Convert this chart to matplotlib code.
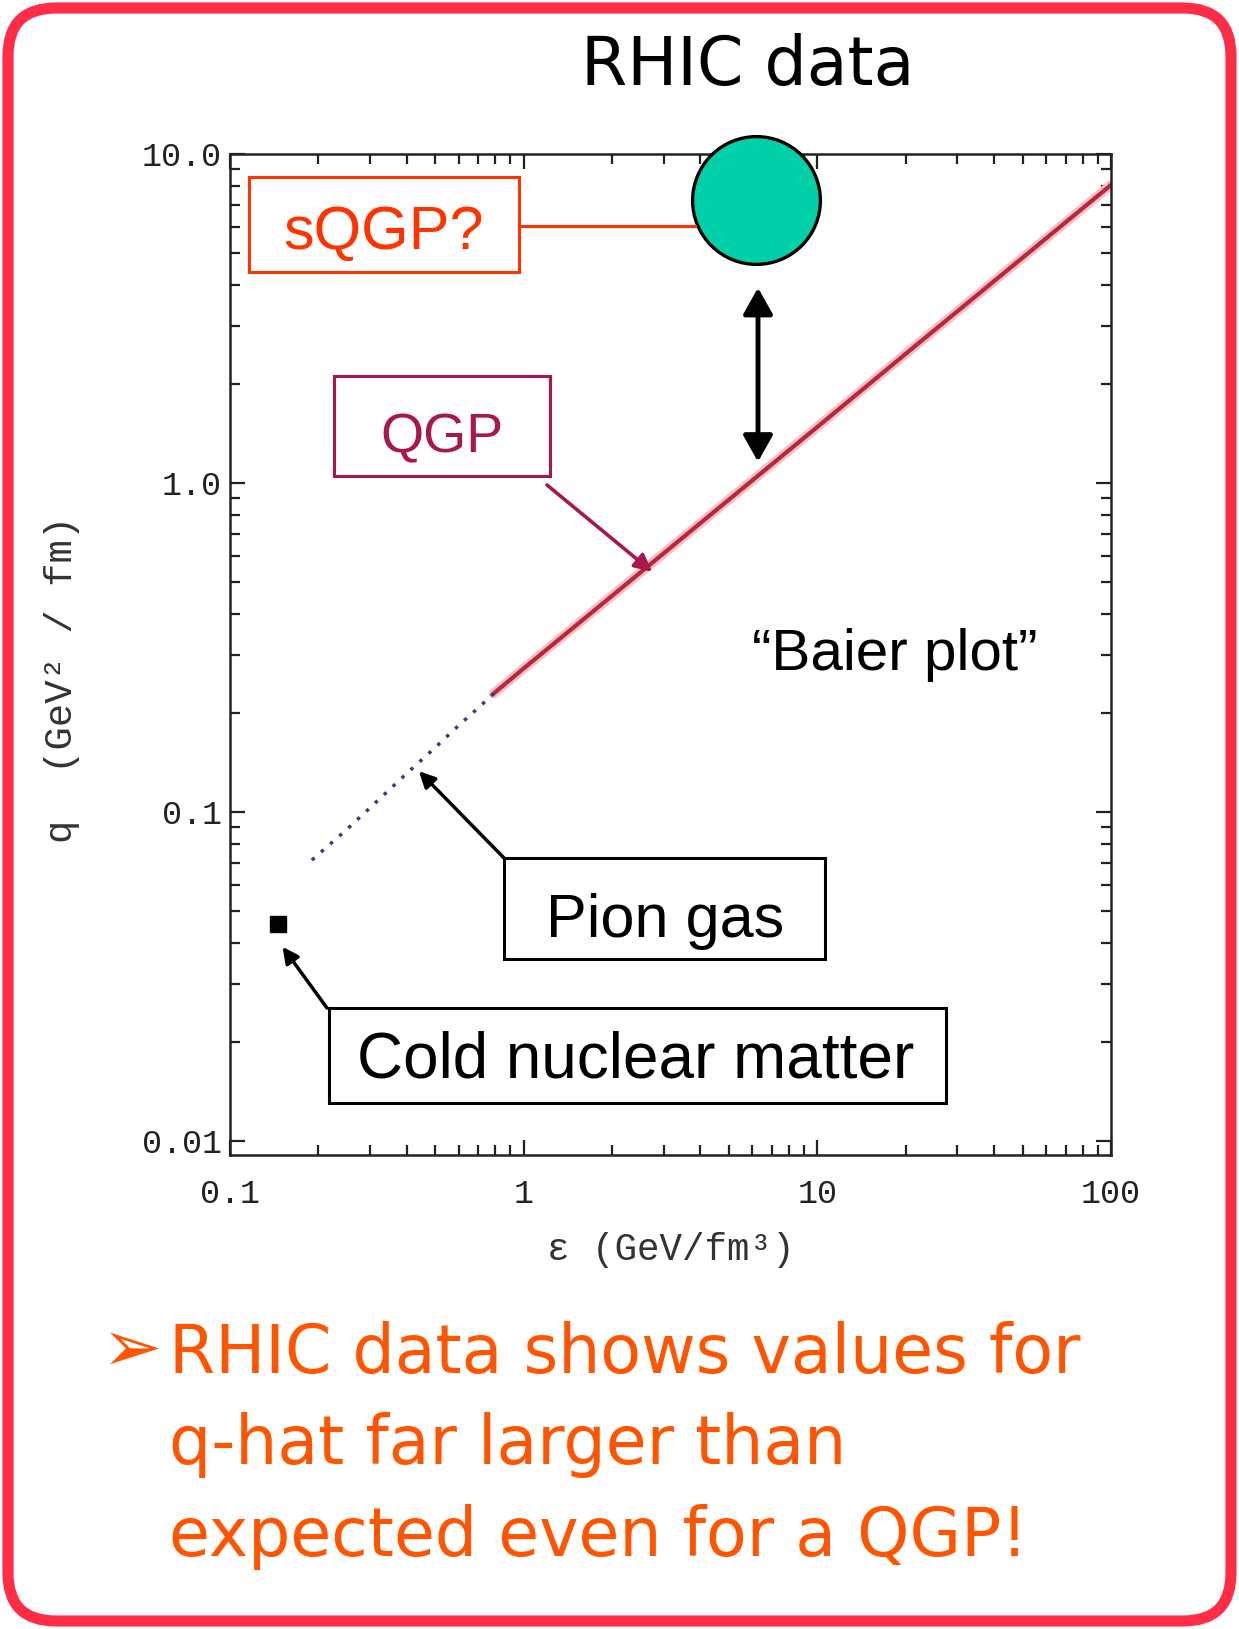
import matplotlib.pyplot as plt
from matplotlib.patches import FancyBboxPatch, Rectangle
from matplotlib.ticker import FixedLocator, FixedFormatter, LogLocator, NullFormatter

qgp_eps = [0.79, 1, 2, 5, 10, 20, 50, 100]
qgp_qhat = [0.229, 0.273, 0.454, 0.89, 1.48, 2.47, 4.84, 8.05]
pion_eps = [0.19, 0.25, 0.3, 0.4, 0.5, 0.6, 0.7, 0.79]
pion_qhat = [0.0714, 0.0885, 0.103, 0.131, 0.157, 0.183, 0.207, 0.229]
cold_eps = [0.146]
cold_qhat = [0.0457]
sqgp_eps = [6.18]
sqgp_qhat = [7.24]

xticks = [0.1, 1, 10, 100]
xtick_labels = ["0.1", "1", "10", "100"]
yticks = [0.01, 0.1, 1, 10]
ytick_labels = ["0.01", "0.1", "1.0", "10.0"]

W, H = 1239, 1629
fig = plt.figure(figsize=(W / 100, H / 100), dpi=100)

# main plot
ax = fig.add_axes([230 / W, 1 - 1155 / H, 881 / W, 1001 / H], zorder=1)
ax.set_xscale("log")
ax.set_yscale("log")
ax.set_xlim(0.1, 100)
ax.set_ylim(0.00906, 10)

ax.plot(qgp_eps, qgp_qhat, color="#F4C2C6", lw=7, solid_capstyle="round")
ax.plot(qgp_eps, qgp_qhat, color="#B8283A", lw=3)
ax.plot(pion_eps, pion_qhat, color="#3A3A80", lw=2.5, ls=(0, (1, 2.5)))
ax.plot(cold_eps, cold_qhat, "s", color="black", ms=12)
ax.plot(sqgp_eps, sqgp_qhat, "o", ms=92, mfc="#00D1A9", mec="black", mew=2.4,
        clip_on=False, zorder=4)

# distance between sQGP and QGP
ax.annotate("", xy=(6.28, 1.16), xytext=(6.28, 3.92),
            arrowprops=dict(arrowstyle="<|-|>,head_length=0.8,head_width=0.45",
                            lw=3.5, color="black", mutation_scale=20,
                            shrinkA=0, shrinkB=0))

mono = "Liberation Mono"
ax.xaxis.set_major_locator(FixedLocator(xticks))
ax.xaxis.set_major_formatter(FixedFormatter(xtick_labels))
ax.yaxis.set_major_locator(FixedLocator(yticks))
ax.yaxis.set_major_formatter(FixedFormatter(ytick_labels))
for axis in (ax.xaxis, ax.yaxis):
    axis.set_minor_locator(LogLocator(base=10, subs=range(2, 10), numticks=20))
    axis.set_minor_formatter(NullFormatter())
ax.tick_params(which="both", direction="in", top=True, right=True,
               width=1.6, color="#222222", labelcolor="#222222", labelsize=24)
ax.tick_params(which="major", length=11)
ax.tick_params(which="minor", length=7)
ax.tick_params(axis="x", pad=17)
ax.tick_params(axis="y", pad=6)
for lab in ax.get_xticklabels() + ax.get_yticklabels():
    lab.set_family(mono)
for sp in ax.spines.values():
    sp.set_linewidth(1.8)
    sp.set_color("#222222")

ax.set_xlabel("ε (GeV/fm³)", family=mono, fontsize=27, color="#333333", va="center")
ax.xaxis.set_label_coords(0.5, -0.095)
ax.set_ylabel("q  (GeV² / fm)", family=mono, fontsize=28, color="#333333", va="center")
ax.yaxis.set_label_coords(-0.191, 0.475)

# overlay in pixel coordinates for frame, boxes and text
ov = fig.add_axes([0, 0, 1, 1], zorder=5)
ov.set_xlim(0, W)
ov.set_ylim(H, 0)
ov.axis("off")
ov.patch.set_alpha(0)
px = ov.transData

ov.add_patch(FancyBboxPatch((8, 8), W - 16, H - 16,
                            boxstyle="round,pad=0,rounding_size=48",
                            fc="none", ec="#FF2D46", lw=8))

ov.text(748, 85, "RHIC data", fontsize=48, family="DejaVu Sans",
        ha="center", va="baseline", color="black")

sans = "Liberation Sans"
red = "#FF3300"
crimson = "#A8184A"

# sQGP box and connector
ov.add_patch(Rectangle((249, 177), 270, 95, fc="white", ec=red, lw=2.2))
ov.text(384, 249, "sQGP?", fontsize=44, family=sans, color=red, ha="center", va="baseline")
ov.plot([519, 695], [226, 226], color=red, lw=2.2)

# QGP box and arrow
ov.add_patch(Rectangle((334, 376), 216, 100, fc="white", ec=crimson, lw=2.2))
ov.text(442, 452, "QGP", fontsize=40, family=sans, color=crimson, ha="center", va="baseline")
ov.annotate("", xy=(2.74, 0.537), xycoords=ax.transData, xytext=(547, 485),
            textcoords=px,
            arrowprops=dict(arrowstyle="-|>", lw=2.6, color=crimson,
                            mutation_scale=26, shrinkA=0, shrinkB=0))

ov.text(895, 670, "\u201cBaier plot\u201d", fontsize=42, family=sans, color="black",
        ha="center", va="baseline")

# Pion gas box
ov.add_patch(Rectangle((504, 858), 321, 101, fc="white", ec="black", lw=2.2))
ov.text(665, 937, "Pion gas", fontsize=44, family=sans, color="black", ha="center", va="baseline")
ov.annotate("", xy=(0.44, 0.133), xycoords=ax.transData, xytext=(504, 858),
            textcoords=px,
            arrowprops=dict(arrowstyle="-|>", lw=2.5, color="black",
                            mutation_scale=24, shrinkA=0, shrinkB=0))

# Cold nuclear matter box
ov.add_patch(Rectangle((329, 1008), 617, 95, fc="white", ec="black", lw=2.2))
ov.text(636, 1078, "Cold nuclear matter", fontsize=46, family=sans, color="black",
        ha="center", va="baseline")
ov.annotate("", xy=(0.151, 0.0389), xycoords=ax.transData, xytext=(327, 1008),
            textcoords=px,
            arrowprops=dict(arrowstyle="-|>", lw=2.5, color="black",
                            mutation_scale=24, shrinkA=0, shrinkB=0))

# bottom bullet text
orange = "#FF5500"
ov.text(102, 1371, "\u27a2", fontsize=52, family="DejaVu Sans", color=orange,
        ha="left", va="baseline")
lines = ["RHIC data shows values for", "q-hat far larger than",
         "expected even for a QGP!"]
for txt, yb in zip(lines, [1373, 1464, 1556]):
    ov.text(169, yb, txt, fontsize=48, family="DejaVu Sans", color=orange,
            ha="left", va="baseline")

fig.savefig("out.png", dpi=100)
